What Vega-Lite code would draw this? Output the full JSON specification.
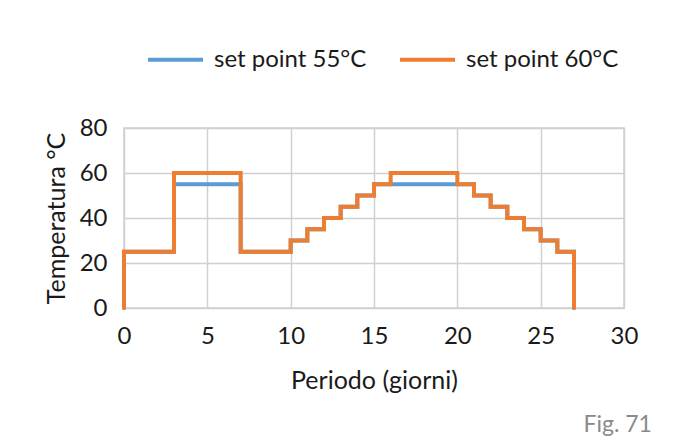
{
  "$schema": "https://vega.github.io/schema/vega-lite/v6.json",
  "width": 674,
  "height": 441,
  "autosize": {"type": "fit", "contains": "padding"},
  "padding": {"left": 44, "top": 116, "right": 22, "bottom": 4},
  "background": "white",
  "config": {
    "font": "Lato",
    "view": {"stroke": "#d0d0d0", "strokeWidth": 1.5},
    "axis": {
      "labelFont": "Lato", "titleFont": "Lato", "labelFontSize": 24, "titleFontSize": 25,
      "labelColor": "#1a1a1a", "titleColor": "#1a1a1a", "titleFontWeight": "normal",
      "gridColor": "#d0d0d0", "gridWidth": 1.5, "ticks": false, "domain": false
    },
    "legend": {"labelFont": "Lato", "labelFontSize": 24, "labelColor": "#1a1a1a"}
  },
  "title": {"text": "Fig. 71", "orient": "bottom", "anchor": "end", "color": "#8a8a8a", "fontSize": 23, "font": "Lato", "fontWeight": "normal", "frame": "bounds", "offset": 21, "dx": 14},
  "data": {"values": [
    {"s": "set point 55°C", "d": 0, "t": 0, "o": 1},
    {"s": "set point 55°C", "d": 0, "t": 25, "o": 2},
    {"s": "set point 55°C", "d": 3, "t": 25, "o": 3},
    {"s": "set point 55°C", "d": 3, "t": 55, "o": 4},
    {"s": "set point 55°C", "d": 7, "t": 55, "o": 5},
    {"s": "set point 55°C", "d": 7, "t": 25, "o": 6},
    {"s": "set point 55°C", "d": 10, "t": 25, "o": 7},
    {"s": "set point 55°C", "d": 10, "t": 30, "o": 8},
    {"s": "set point 55°C", "d": 11, "t": 30, "o": 9},
    {"s": "set point 55°C", "d": 11, "t": 35, "o": 10},
    {"s": "set point 55°C", "d": 12, "t": 35, "o": 11},
    {"s": "set point 55°C", "d": 12, "t": 40, "o": 12},
    {"s": "set point 55°C", "d": 13, "t": 40, "o": 13},
    {"s": "set point 55°C", "d": 13, "t": 45, "o": 14},
    {"s": "set point 55°C", "d": 14, "t": 45, "o": 15},
    {"s": "set point 55°C", "d": 14, "t": 50, "o": 16},
    {"s": "set point 55°C", "d": 15, "t": 50, "o": 17},
    {"s": "set point 55°C", "d": 15, "t": 55, "o": 18},
    {"s": "set point 55°C", "d": 21, "t": 55, "o": 19},
    {"s": "set point 55°C", "d": 21, "t": 50, "o": 20},
    {"s": "set point 55°C", "d": 22, "t": 50, "o": 21},
    {"s": "set point 55°C", "d": 22, "t": 45, "o": 22},
    {"s": "set point 55°C", "d": 23, "t": 45, "o": 23},
    {"s": "set point 55°C", "d": 23, "t": 40, "o": 24},
    {"s": "set point 55°C", "d": 24, "t": 40, "o": 25},
    {"s": "set point 55°C", "d": 24, "t": 35, "o": 26},
    {"s": "set point 55°C", "d": 25, "t": 35, "o": 27},
    {"s": "set point 55°C", "d": 25, "t": 30, "o": 28},
    {"s": "set point 55°C", "d": 26, "t": 30, "o": 29},
    {"s": "set point 55°C", "d": 26, "t": 25, "o": 30},
    {"s": "set point 55°C", "d": 27, "t": 25, "o": 31},
    {"s": "set point 55°C", "d": 27, "t": 0, "o": 32},
    {"s": "set point 60°C", "d": 0, "t": 0, "o": 1},
    {"s": "set point 60°C", "d": 0, "t": 25, "o": 2},
    {"s": "set point 60°C", "d": 3, "t": 25, "o": 3},
    {"s": "set point 60°C", "d": 3, "t": 60, "o": 4},
    {"s": "set point 60°C", "d": 7, "t": 60, "o": 5},
    {"s": "set point 60°C", "d": 7, "t": 25, "o": 6},
    {"s": "set point 60°C", "d": 10, "t": 25, "o": 7},
    {"s": "set point 60°C", "d": 10, "t": 30, "o": 8},
    {"s": "set point 60°C", "d": 11, "t": 30, "o": 9},
    {"s": "set point 60°C", "d": 11, "t": 35, "o": 10},
    {"s": "set point 60°C", "d": 12, "t": 35, "o": 11},
    {"s": "set point 60°C", "d": 12, "t": 40, "o": 12},
    {"s": "set point 60°C", "d": 13, "t": 40, "o": 13},
    {"s": "set point 60°C", "d": 13, "t": 45, "o": 14},
    {"s": "set point 60°C", "d": 14, "t": 45, "o": 15},
    {"s": "set point 60°C", "d": 14, "t": 50, "o": 16},
    {"s": "set point 60°C", "d": 15, "t": 50, "o": 17},
    {"s": "set point 60°C", "d": 15, "t": 55, "o": 18},
    {"s": "set point 60°C", "d": 16, "t": 55, "o": 19},
    {"s": "set point 60°C", "d": 16, "t": 60, "o": 20},
    {"s": "set point 60°C", "d": 20, "t": 60, "o": 21},
    {"s": "set point 60°C", "d": 20, "t": 55, "o": 22},
    {"s": "set point 60°C", "d": 21, "t": 55, "o": 23},
    {"s": "set point 60°C", "d": 21, "t": 50, "o": 24},
    {"s": "set point 60°C", "d": 22, "t": 50, "o": 25},
    {"s": "set point 60°C", "d": 22, "t": 45, "o": 26},
    {"s": "set point 60°C", "d": 23, "t": 45, "o": 27},
    {"s": "set point 60°C", "d": 23, "t": 40, "o": 28},
    {"s": "set point 60°C", "d": 24, "t": 40, "o": 29},
    {"s": "set point 60°C", "d": 24, "t": 35, "o": 30},
    {"s": "set point 60°C", "d": 25, "t": 35, "o": 31},
    {"s": "set point 60°C", "d": 25, "t": 30, "o": 32},
    {"s": "set point 60°C", "d": 26, "t": 30, "o": 33},
    {"s": "set point 60°C", "d": 26, "t": 25, "o": 34},
    {"s": "set point 60°C", "d": 27, "t": 25, "o": 35},
    {"s": "set point 60°C", "d": 27, "t": 0, "o": 36}
  ]},
  "mark": {"type": "line", "strokeWidth": 4, "strokeCap": "round", "strokeJoin": "miter"},
  "encoding": {
    "x": {"field": "d", "type": "quantitative", "title": "Periodo (giorni)",
      "scale": {"domain": [0, 30], "nice": false},
      "axis": {"values": [0, 5, 10, 15, 20, 25, 30], "labelPadding": 16, "titlePadding": 20, "labelFlush": false}},
    "y": {"field": "t", "type": "quantitative", "title": "Temperatura °C",
      "scale": {"domain": [0, 80], "nice": false},
      "axis": {"values": [0, 20, 40, 60, 80], "labelPadding": 17, "titlePadding": 10}},
    "color": {"field": "s", "type": "nominal", "title": null,
      "scale": {"domain": ["set point 55°C", "set point 60°C"], "range": ["#5b9bd5", "#ed7d31"]},
      "legend": {"orient": "none", "legendX": 22, "legendY": -98, "direction": "horizontal", "symbolType": "stroke", "symbolSize": 3025, "symbolStrokeWidth": 4, "columnPadding": 25, "labelOffset": 9}},
    "order": {"field": "o", "type": "quantitative"}
  }
}
